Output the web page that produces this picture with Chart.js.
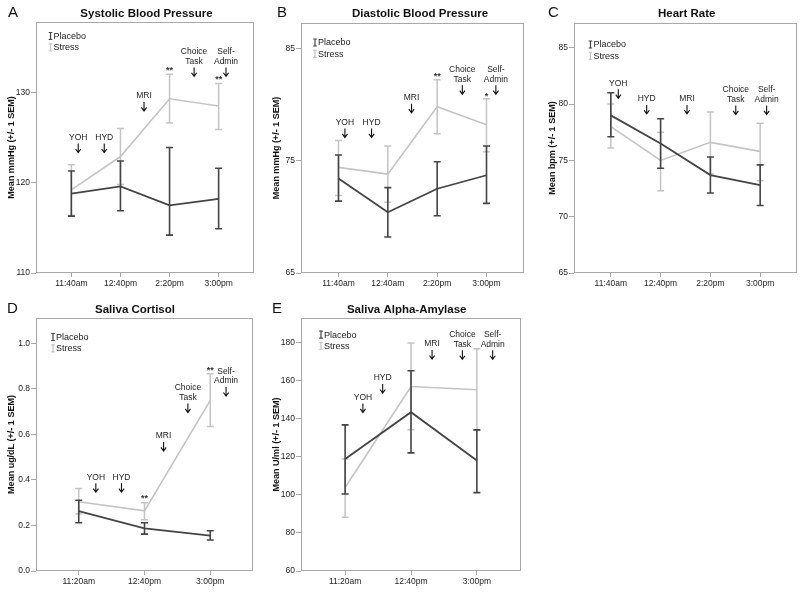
<!DOCTYPE html>
<html>
<head>
<meta charset="utf-8">
<script src="https://cdn.jsdelivr.net/npm/chart.js@4.4.0/dist/chart.umd.min.js"></script>
<style>
html,body{margin:0;padding:0;background:#fff;width:800px;height:592px;overflow:hidden;}
canvas{position:absolute;}
</style>
</head>
<body>
<canvas id="cA" width="260" height="295" style="left:0px;top:0px;width:260px;height:295px"></canvas>
<canvas id="cB" width="268" height="295" style="left:262px;top:0px;width:268px;height:295px"></canvas>
<canvas id="cC" width="268" height="295" style="left:532px;top:0px;width:268px;height:295px"></canvas>
<canvas id="cD" width="260" height="297" style="left:0px;top:295px;width:260px;height:297px"></canvas>
<canvas id="cE" width="268" height="297" style="left:262px;top:295px;width:268px;height:297px"></canvas>
<script>
// ---------------- DATA ----------------
// Panel A – Systolic Blood Pressure
const sbpTimes = ['11:40am', '12:40pm', '2:20pm', '3:00pm'];
const sbpYTicks = [110, 120, 130];
const sbpPlaceboMean = [118.8, 119.6, 117.5, 118.2];
const sbpPlaceboLow  = [116.3, 116.9, 114.2, 114.9];
const sbpPlaceboHigh = [121.3, 122.4, 123.9, 121.6];
const sbpStressMean  = [119.2, 122.9, 129.3, 128.5];
const sbpStressLow   = [116.4, 119.8, 126.6, 125.9];
const sbpStressHigh  = [122.0, 126.0, 132.0, 131.0];
const sbpEventLabels = ['YOH', 'HYD', 'MRI', 'Choice\nTask', 'Self-\nAdmin'];
const sbpEventX = [0.14, 0.67, 1.48, 2.5, 3.15];
const sbpEventY = [125.0, 125.0, 129.6, 134.5, 134.5];
const sbpStarText = ['**', '**'];
const sbpStarX = [2, 3];
const sbpStarY = [132.6, 131.6];

// Panel B – Diastolic Blood Pressure
const dbpTimes = ['11:40am', '12:40am', '2:20pm', '3:00pm'];
const dbpYTicks = [65, 75, 85];
const dbpPlaceboMean = [73.4, 70.4, 72.5, 73.7];
const dbpPlaceboLow  = [71.4, 68.2, 70.1, 71.2];
const dbpPlaceboHigh = [75.5, 72.6, 74.9, 76.3];
const dbpStressMean  = [74.4, 73.8, 79.8, 78.2];
const dbpStressLow   = [71.9, 71.3, 77.4, 75.8];
const dbpStressHigh  = [76.8, 76.3, 82.2, 80.5];
const dbpEventLabels = ['YOH', 'HYD', 'MRI', 'Choice\nTask', 'Self-\nAdmin'];
const dbpEventX = [0.13, 0.67, 1.48, 2.51, 3.19];
const dbpEventY = [78.4, 78.4, 80.6, 83.1, 83.1];
const dbpStarText = ['**', '*'];
const dbpStarX = [2, 3];
const dbpStarY = [82.7, 80.9];

// Panel C – Heart Rate
const hrTimes = ['11:40am', '12:40pm', '2:20pm', '3:00pm'];
const hrYTicks = [65, 70, 75, 80, 85];
const hrPlaceboMean = [79.0, 76.5, 73.7, 72.8];
const hrPlaceboLow  = [77.1, 74.3, 72.1, 71.0];
const hrPlaceboHigh = [81.0, 78.7, 75.3, 74.6];
const hrStressMean  = [78.0, 75.0, 76.6, 75.8];
const hrStressLow   = [76.1, 72.3, 73.8, 73.2];
const hrStressHigh  = [80.0, 77.5, 79.3, 78.3];
const hrEventLabels = ['YOH', 'HYD', 'MRI', 'Choice\nTask', 'Self-\nAdmin'];
const hrEventX = [0.15, 0.72, 1.53, 2.51, 3.13];
const hrEventY = [81.85, 80.46, 80.46, 81.26, 81.26];
const hrStarText = [];
const hrStarX = [];
const hrStarY = [];

// Panel D – Saliva Cortisol
const cortTimes = ['11:20am', '12:40pm', '3:00pm'];
const cortYTicks = [0.0, 0.2, 0.4, 0.6, 0.8, 1.0];
const cortPlaceboMean = [0.263, 0.187, 0.155];
const cortPlaceboLow  = [0.212, 0.162, 0.136];
const cortPlaceboHigh = [0.311, 0.212, 0.177];
const cortStressMean  = [0.304, 0.264, 0.749];
const cortStressLow   = [0.250, 0.225, 0.634];
const cortStressHigh  = [0.362, 0.300, 0.866];
const cortEventLabels = ['YOH', 'HYD', 'MRI', 'Choice\nTask', 'Self-\nAdmin'];
const cortEventX = [0.26, 0.65, 1.29, 1.66, 2.24];
const cortEventY = [0.412, 0.412, 0.593, 0.804, 0.876];
const cortStarText = ['**', '**'];
const cortStarX = [1, 2];
const cortStarY = [0.326, 0.888];

// Panel E – Saliva Alpha-Amylase
const amyTimes = ['11:20am', '12:40pm', '3:00pm'];
const amyYTicks = [60, 80, 100, 120, 140, 160, 180];
const amyPlaceboMean = [118.9, 143.5, 118.1];
const amyPlaceboLow  = [100.5, 122.1, 101.2];
const amyPlaceboHigh = [136.8, 165.3, 134.2];
const amyStressMean  = [103.9, 157.0, 155.3];
const amyStressLow   = [88.2, 134.2, 134.0];
const amyStressHigh  = [118.9, 179.8, 176.8];
const amyEventLabels = ['YOH', 'HYD', 'MRI', 'Choice\nTask', 'Self-\nAdmin'];
const amyEventX = [0.27, 0.57, 1.32, 1.78, 2.24];
const amyEventY = [151.2, 161.4, 179.3, 184.2, 184.2];
const amyStarText = [];
const amyStarX = [];
const amyStarY = [];

// ---------------- STYLE ----------------
const FONT = "'Liberation Sans', Arial, Helvetica, sans-serif";
const PLACEBO_COLOR = '#444444';
const STRESS_COLOR = '#c4c4c4';
const AXIS_COLOR = '#a8a8a8';
const TEXT_COLOR = '#222222';
const ARROW_COLOR = '#111111';

const PANELS = {};

const decorPlugin = {
  id: 'panelDecor',
  beforeDraw(chart) {
    const c = chart.ctx;
    c.save(); c.fillStyle = '#fff'; c.fillRect(0, 0, chart.width, chart.height); c.restore();
  },
  afterDatasetDraw(chart, args) {
    const ds = chart.data.datasets[args.index];
    const xs = chart.scales.x, ys = chart.scales.y;
    const c = chart.ctx;
    c.save();
    c.strokeStyle = ds.borderColor;
    c.lineWidth = ds.barWidth;
    const cap = 3.5;
    ds.low.forEach((lo, i) => {
      const x = xs.getPixelForValue(i);
      const y1 = ys.getPixelForValue(lo);
      const y2 = ys.getPixelForValue(ds.high[i]);
      c.beginPath();
      c.moveTo(x, y1); c.lineTo(x, y2);
      c.moveTo(x - cap, y1); c.lineTo(x + cap, y1);
      c.moveTo(x - cap, y2); c.lineTo(x + cap, y2);
      c.stroke();
    });
    c.restore();
  },
  afterDraw(chart) {
    const p = PANELS[chart.canvas.id];
    const c = chart.ctx;
    const a = chart.chartArea;
    const xs = chart.scales.x, ys = chart.scales.y;
    c.save();
    // frame
    c.strokeStyle = AXIS_COLOR; c.lineWidth = 1;
    c.strokeRect(Math.round(a.left) + 0.5, Math.round(a.top) + 0.5,
                 Math.round(a.right - a.left) - 1, Math.round(a.bottom - a.top) - 1);
    // title
    c.fillStyle = '#111';
    c.textAlign = 'center'; c.textBaseline = 'middle';
    c.font = 'bold 11.5px ' + FONT;
    c.fillText(p.title, p.titleX, p.titleY);
    // panel letter
    c.textAlign = 'left';
    c.font = '15px ' + FONT;
    c.fillText(p.letter, p.letterX, p.letterY);
    // legend
    const names = ['Placebo', 'Stress'];
    const cols = [PLACEBO_COLOR, STRESS_COLOR];
    c.font = '9px ' + FONT;
    names.forEach((n, k) => {
      const gx = a.left + p.legendDX;
      const gy = a.top + p.legendDY + k * 11.3;
      c.strokeStyle = cols[k]; c.lineWidth = 1.2;
      c.beginPath();
      c.moveTo(gx, gy - 3.5); c.lineTo(gx, gy + 3.5);
      c.moveTo(gx - 1.8, gy - 3.5); c.lineTo(gx + 1.8, gy - 3.5);
      c.moveTo(gx - 1.8, gy + 3.5); c.lineTo(gx + 1.8, gy + 3.5);
      c.stroke();
      c.fillStyle = TEXT_COLOR;
      c.textAlign = 'left'; c.textBaseline = 'middle';
      c.fillText(n, gx + 3, gy + 0.5);
    });
    // events with arrows
    c.font = '8.5px ' + FONT;
    c.textAlign = 'center'; c.textBaseline = 'middle';
    p.eventLabels.forEach((lab, i) => {
      const px = xs.getPixelForValue(p.eventX[i]);
      const py = ys.getPixelForValue(p.eventY[i]);
      const lines = lab.split('\n');
      c.fillStyle = TEXT_COLOR;
      lines.forEach((ln, k) => c.fillText(ln, px, py + k * 9.6));
      const y0 = py + (lines.length - 1) * 9.6 + 6;
      const y1 = y0 + 9;
      c.strokeStyle = ARROW_COLOR; c.lineWidth = 1.1;
      c.beginPath();
      c.moveTo(px, y0); c.lineTo(px, y1);
      c.moveTo(px - 2.6, y1 - 3.6); c.lineTo(px, y1); c.lineTo(px + 2.6, y1 - 3.6);
      c.stroke();
    });
    // significance stars
    c.font = 'bold 9px ' + FONT;
    c.fillStyle = '#333';
    p.starText.forEach((t, i) => {
      c.fillText(t, xs.getPixelForValue(p.starX[i]), ys.getPixelForValue(p.starY[i]) + 2);
    });
    c.restore();
  }
};

function buildPanel(p) {
  PANELS[p.id] = p;
  const pts = arr => arr.map((v, i) => ({ x: i, y: v }));
  const tickFont = { family: FONT, size: 8.5 };
  return new Chart(document.getElementById(p.id), {
    type: 'line',
    data: {
      datasets: [
        { label: 'Placebo', data: pts(p.placeboMean), low: p.placeboLow, high: p.placeboHigh,
          borderColor: PLACEBO_COLOR, borderWidth: 1.8, barWidth: 1.6, pointRadius: 0, fill: false, tension: 0 },
        { label: 'Stress', data: pts(p.stressMean), low: p.stressLow, high: p.stressHigh,
          borderColor: STRESS_COLOR, borderWidth: 1.6, barWidth: 1.5, pointRadius: 0, fill: false, tension: 0 }
      ]
    },
    options: {
      responsive: false, animation: false, devicePixelRatio: 1, events: [],
      layout: { padding: { top: p.padTop, right: p.padRight, left: 0, bottom: 0 } },
      plugins: { legend: { display: false }, tooltip: { enabled: false }, title: { display: false } },
      scales: {
        x: {
          type: 'linear', min: p.xMin, max: p.xMax,
          afterBuildTicks: s => { s.ticks = p.times.map((t, i) => ({ value: i })); },
          afterFit: s => { s.height = p.xAxisH; },
          ticks: { callback: v => p.times[v], color: TEXT_COLOR, font: tickFont, padding: 2,
                   autoSkip: false, maxRotation: 0, minRotation: 0 },
          grid: { display: true, drawOnChartArea: false, drawTicks: true, tickLength: 4, color: AXIS_COLOR, lineWidth: 1 },
          border: { display: false }
        },
        y: {
          type: 'linear', min: p.yMin, max: p.yMax,
          afterBuildTicks: s => { s.ticks = p.yTicks.map(v => ({ value: v })); },
          afterFit: s => { s.width = p.yAxisW; },
          ticks: { callback: v => p.yFormat(v), color: TEXT_COLOR, font: tickFont, padding: 1 },
          grid: { display: true, drawOnChartArea: false, drawTicks: true, tickLength: 5, color: AXIS_COLOR, lineWidth: 1 },
          border: { display: false },
          title: { display: true, text: p.yTitle, color: '#111',
                   font: { family: FONT, size: 9, weight: 'bold' }, padding: { top: p.yTitlePad, bottom: 0 } }
        }
      }
    },
    plugins: [decorPlugin]
  });
}

const intFmt = v => String(Math.round(v));

buildPanel({
  id: 'cA', letter: 'A', title: 'Systolic Blood Pressure', titleX: 146.5, titleY: 14, letterX: 8, letterY: 13,
  yTitle: 'Mean mmHg (+/- 1 SEM)', yTitlePad: 6.3,
  padTop: 22, padRight: 6, yAxisW: 36, xAxisH: 22,
  xMin: -0.72, xMax: 3.72, yMin: 110, yMax: 137.8, yTicks: sbpYTicks, yFormat: intFmt,
  times: sbpTimes,
  placeboMean: sbpPlaceboMean, placeboLow: sbpPlaceboLow, placeboHigh: sbpPlaceboHigh,
  stressMean: sbpStressMean, stressLow: sbpStressLow, stressHigh: sbpStressHigh,
  eventLabels: sbpEventLabels, eventX: sbpEventX, eventY: sbpEventY,
  starText: sbpStarText, starX: sbpStarX, starY: sbpStarY,
  legendDX: 14.5, legendDY: 14
});

buildPanel({
  id: 'cB', letter: 'B', title: 'Diastolic Blood Pressure', titleX: 158, titleY: 14, letterX: 15, letterY: 13,
  yTitle: 'Mean mmHg (+/- 1 SEM)', yTitlePad: 9.6,
  padTop: 23, padRight: 6, yAxisW: 39, xAxisH: 22,
  xMin: -0.76, xMax: 3.76, yMin: 65, yMax: 87.25, yTicks: dbpYTicks, yFormat: intFmt,
  times: dbpTimes,
  placeboMean: dbpPlaceboMean, placeboLow: dbpPlaceboLow, placeboHigh: dbpPlaceboHigh,
  stressMean: dbpStressMean, stressLow: dbpStressLow, stressHigh: dbpStressHigh,
  eventLabels: dbpEventLabels, eventX: dbpEventX, eventY: dbpEventY,
  starText: dbpStarText, starX: dbpStarX, starY: dbpStarY,
  legendDX: 14, legendDY: 19.5
});

buildPanel({
  id: 'cC', letter: 'C', title: 'Heart Rate', titleX: 154.7, titleY: 14, letterX: 16, letterY: 13,
  yTitle: 'Mean bpm (+/- 1 SEM)', yTitlePad: 15,
  padTop: 23, padRight: 3, yAxisW: 42, xAxisH: 22,
  xMin: -0.74, xMax: 3.74, yMin: 65, yMax: 87.2, yTicks: hrYTicks, yFormat: intFmt,
  times: hrTimes,
  placeboMean: hrPlaceboMean, placeboLow: hrPlaceboLow, placeboHigh: hrPlaceboHigh,
  stressMean: hrStressMean, stressLow: hrStressLow, stressHigh: hrStressHigh,
  eventLabels: hrEventLabels, eventX: hrEventX, eventY: hrEventY,
  starText: hrStarText, starX: hrStarX, starY: hrStarY,
  legendDX: 16.5, legendDY: 21.5
});

buildPanel({
  id: 'cD', letter: 'D', title: 'Saliva Cortisol', titleX: 135, titleY: 15, letterX: 7, letterY: 14,
  yTitle: 'Mean ug/dL (+/- 1 SEM)', yTitlePad: 6.3,
  padTop: 23, padRight: 7, yAxisW: 36, xAxisH: 21,
  xMin: -0.65, xMax: 2.65, yMin: 0, yMax: 1.111, yTicks: cortYTicks, yFormat: v => v.toFixed(1),
  times: cortTimes,
  placeboMean: cortPlaceboMean, placeboLow: cortPlaceboLow, placeboHigh: cortPlaceboHigh,
  stressMean: cortStressMean, stressLow: cortStressLow, stressHigh: cortStressHigh,
  eventLabels: cortEventLabels, eventX: cortEventX, eventY: cortEventY,
  starText: cortStarText, starX: cortStarX, starY: cortStarY,
  legendDX: 17, legendDY: 19
});

buildPanel({
  id: 'cE', letter: 'E', title: 'Saliva Alpha-Amylase', titleX: 144.7, titleY: 15, letterX: 10, letterY: 14,
  yTitle: 'Mean U/ml (+/- 1 SEM)', yTitlePad: 9.3,
  padTop: 23, padRight: 9, yAxisW: 39, xAxisH: 21,
  xMin: -0.67, xMax: 2.67, yMin: 60, yMax: 193, yTicks: amyYTicks, yFormat: intFmt,
  times: amyTimes,
  placeboMean: amyPlaceboMean, placeboLow: amyPlaceboLow, placeboHigh: amyPlaceboHigh,
  stressMean: amyStressMean, stressLow: amyStressLow, stressHigh: amyStressHigh,
  eventLabels: amyEventLabels, eventX: amyEventX, eventY: amyEventY,
  starText: amyStarText, starX: amyStarX, starY: amyStarY,
  legendDX: 20, legendDY: 16.7
});
</script>
</body>
</html>
